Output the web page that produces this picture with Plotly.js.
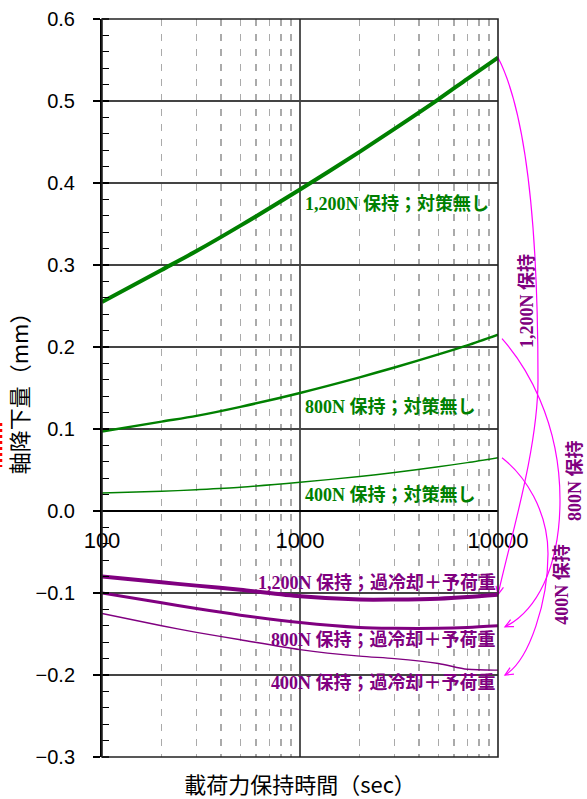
<!DOCTYPE html>
<html><head><meta charset="utf-8">
<script src="https://cdn.plot.ly/plotly-3.0.1.min.js"></script>
<style>html,body{margin:0;padding:0;background:#fff;}</style>
</head><body><div id="chart" style="width:587px;height:799px;"></div>
<script>
// ---- data ----
const times = [100, 200, 300, 500, 1000, 2000, 3000, 5000, 7000, 10000];
const green1200 = [0.255, 0.294, 0.317, 0.348, 0.392, 0.438, 0.466, 0.502, 0.527, 0.553];
const green800  = [0.097, 0.109, 0.116, 0.127, 0.144, 0.163, 0.175, 0.191, 0.202, 0.215];
const green400  = [0.022, 0.024, 0.026, 0.029, 0.035, 0.042, 0.047, 0.054, 0.059, 0.065];
const purple1200 = [-0.080, -0.087, -0.091, -0.096, -0.104, -0.108, -0.108, -0.107, -0.105, -0.102];
const purple800  = [-0.100, -0.112, -0.119, -0.127, -0.136, -0.142, -0.143, -0.143, -0.142, -0.140];
const purple400  = [-0.125, -0.140, -0.148, -0.157, -0.169, -0.177, -0.180, -0.186, -0.193, -0.194];
const xTickVals = [100, 1000, 10000];
const xTickText = ['100', '1000', '10000'];
const xMinorVals = [200,300,400,500,600,700,800,900,2000,3000,4000,5000,6000,7000,8000,9000];
const greenLabels = ['1,200N 保持；対策無し', '800N 保持；対策無し', '400N 保持；対策無し'];
const purpleLabels = ['1,200N 保持；過冷却＋予荷重', '800N 保持；過冷却＋予荷重', '400N 保持；過冷却＋予荷重'];
const sideLabels = ['1,200N 保持', '800N 保持', '400N 保持'];
const xTitle = '載荷力保持時間（sec）';
const yTitle = '軸降下量（mm）';

// ---- layout geometry ----
const WIDTH = 587, HEIGHT = 799;
const M = {l: 102, r: 89, t: 19, b: 42};
const PW = WIDTH - M.l - M.r, PH = HEIGHT - M.t - M.b;
const yRange = [-0.3, 0.6];
const GREEN = '#008000', PURPLE = '#800080', MAG = '#ff00ff';
const labelFont = {family: '"Liberation Serif", "Noto Sans CJK JP", serif', size: 18};

function yPix(v) { return M.t + (yRange[1] - v) / (yRange[1] - yRange[0]) * PH; }
function toPaper(x, y) { return ((x - M.l) / PW).toFixed(5) + ',' + ((M.t + PH - y) / PH).toFixed(5); }

const last = a => a[a.length - 1];
const RX = M.l + PW;

function arrowPath(pts) {
  let d = 'M' + toPaper(pts[0][0], pts[0][1]);
  d += ' C' + toPaper(pts[1][0], pts[1][1]) + ' ' + toPaper(pts[2][0], pts[2][1]) + ' ' + toPaper(pts[3][0], pts[3][1]);
  d += ' C' + toPaper(pts[4][0], pts[4][1]) + ' ' + toPaper(pts[5][0], pts[5][1]) + ' ' + toPaper(pts[6][0], pts[6][1]);
  return d;
}
function headPath(from, to) {
  const dx = to[0] - from[0], dy = to[1] - from[1];
  const len = Math.hypot(dx, dy);
  const ux = dx / len, uy = dy / len;
  const L = 9, a = 25 * Math.PI / 180;
  const w = s => [to[0] - L * (ux * Math.cos(a) - s * uy * Math.sin(a)),
                  to[1] - L * (uy * Math.cos(a) + s * ux * Math.sin(a))];
  const w1 = w(1), w2 = w(-1);
  return 'M' + toPaper(w1[0], w1[1]) + ' L' + toPaper(to[0], to[1]) + ' L' + toPaper(w2[0], w2[1]);
}

const arrows = [];
(function () {
  const S = [RX, yPix(last(green1200))], E = [RX, yPix(last(purple1200))];
  const pts = [S, [S[0] + 32, S[1] + 62], [S[0] + 40, S[1] + 192], [S[0] + 40, S[1] + 322],
               [E[0] + 40, E[1] - 145], [E[0] + 12, E[1] - 55], E];
  arrows.push(arrowPath(pts), headPath(pts[5], E));
})();
(function () {
  const S = [RX + 4, yPix(last(green800)) + 4], E = [RX + 7, yPix(last(purple800)) + 1];
  const pts = [S, [S[0] + 23, S[1] + 26], [S[0] + 58, S[1] + 81], [S[0] + 58, S[1] + 161],
               [E[0] + 55, E[1] - 57], [E[0] + 30, E[1] - 15], E];
  arrows.push(arrowPath(pts), headPath(pts[5], E));
})();
(function () {
  const S = [RX + 4, yPix(last(green400))], E = [RX + 7, yPix(last(purple400)) + 5];
  const pts = [S, [S[0] + 23, S[1] + 18], [S[0] + 46, S[1] + 53], [S[0] + 46, S[1] + 96],
               [E[0] + 43, E[1] - 75], [E[0] + 25, E[1] - 15], E];
  arrows.push(arrowPath(pts), headPath(pts[5], E));
})();

const shapes = arrows.map(p => ({type: 'path', path: p, xref: 'paper', yref: 'paper',
  line: {color: MAG, width: 1.2}, layer: 'above'}));
shapes.push({type: 'rect', xref: 'paper', yref: 'paper', x0: 0, x1: 1, y0: 0, y1: 1,
  line: {color: '#222', width: 1.6}, layer: 'above'});
shapes.push({type: 'line', xref: 'paper', yref: 'paper',
  x0: (1 - M.l) / PW, x1: (1 - M.l) / PW, y0: (M.t + PH - 423) / PH, y1: (M.t + PH - 467) / PH,
  line: {color: '#ff0000', width: 2.5, dash: 'dot'}});

function line(y, color, width, xaxis) {
  return {x: times, y: y, type: 'scatter', mode: 'lines', xaxis: xaxis, yaxis: 'y',
    line: {color: color, width: width, shape: 'spline', smoothing: 0.8}, hoverinfo: 'skip', showlegend: false};
}
const data = [
  line(green1200, GREEN, 4, 'x'),
  line(green800, GREEN, 2.5, 'x'),
  line(green400, GREEN, 1.4, 'x'),
  line(purple1200, PURPLE, 4, 'x2'),
  line(purple800, PURPLE, 3, 'x2'),
  line(purple400, PURPLE, 1.4, 'x2')
];

const greenY = [0.375, 0.127, 0.0195];
const purpleY = [-0.088, -0.157, -0.210];
const sidePos = [[527, 0.256], [575, 0.0366], [562, -0.090]];
const annotations = [];
greenLabels.forEach((t, i) => annotations.push({text: '<b>' + t + '</b>', xref: 'paper', yref: 'y',
  x: (303 - M.l) / PW, y: greenY[i], xanchor: 'left', yanchor: 'middle', showarrow: false,
  font: Object.assign({color: GREEN}, labelFont)}));
purpleLabels.forEach((t, i) => annotations.push({text: '<b>' + t + '</b>', xref: 'paper', yref: 'y',
  x: 1, y: purpleY[i], xanchor: 'right', yanchor: 'middle', showarrow: false,
  font: Object.assign({color: PURPLE}, labelFont)}));
sideLabels.forEach((t, i) => annotations.push({text: '<b>' + t + '</b>', xref: 'paper', yref: 'y',
  x: (sidePos[i][0] - M.l) / PW, y: sidePos[i][1], xanchor: 'center', yanchor: 'middle', showarrow: false,
  textangle: -90, font: Object.assign({color: PURPLE}, labelFont)}));

const layout = {
  width: WIDTH, height: HEIGHT, margin: M,
  paper_bgcolor: '#fff', plot_bgcolor: '#fff',
  showlegend: false,
  font: {family: '"Liberation Sans", Arial, sans-serif', color: '#000'},
  xaxis: {
    type: 'log', range: [2, 4], anchor: 'y',
    tickmode: 'array', tickvals: xTickVals, ticktext: xTickText, showticklabels: false, ticks: '',
    showgrid: true, gridcolor: '#555', gridwidth: 2,
    showline: false, zeroline: false,
    minor: {tickmode: 'array', tickvals: xMinorVals, showgrid: true, gridcolor: '#aaa', gridwidth: 1.5, griddash: '7px,8px', ticks: ''},
    title: {text: xTitle, font: {family: '"Noto Sans CJK JP", sans-serif', size: 22, color: '#000'}, standoff: 20}
  },
  xaxis2: {
    type: 'log', range: [2, 4], overlaying: 'x', anchor: 'free',
    position: (0 - yRange[0]) / (yRange[1] - yRange[0]),
    tickmode: 'array', tickvals: xTickVals, ticktext: xTickText, ticks: '',
    tickfont: {family: '"Liberation Sans", Arial, sans-serif', size: 22, color: '#000'},
    ticklabelstandoff: 14,
    showgrid: false, showline: false, zeroline: false
  },
  yaxis: {
    range: yRange, dtick: 0.1, tick0: 0, tickformat: '.1f',
    ticks: 'outside', ticklen: 7, tickwidth: 1.5, tickcolor: '#000',
    tickfont: {family: '"Liberation Sans", Arial, sans-serif', size: 20, color: '#000'},
    ticklabelstandoff: 14,
    showgrid: true, gridcolor: '#444', gridwidth: 1.3,
    zeroline: true, zerolinecolor: '#000', zerolinewidth: 2,
    showline: true, linecolor: '#000', linewidth: 2,
    minor: {dtick: 0.02, tick0: 0, ticks: 'inside', ticklen: 7, tickwidth: 1.2, tickcolor: '#000', showgrid: false},
    title: {text: yTitle, font: {family: '"Noto Sans CJK JP", sans-serif', size: 22, color: '#000'}, standoff: 1}
  },
  shapes: shapes,
  annotations: annotations
};
Plotly.newPlot('chart', data, layout, {displayModeBar: false, staticPlot: true});
</script></body></html>
